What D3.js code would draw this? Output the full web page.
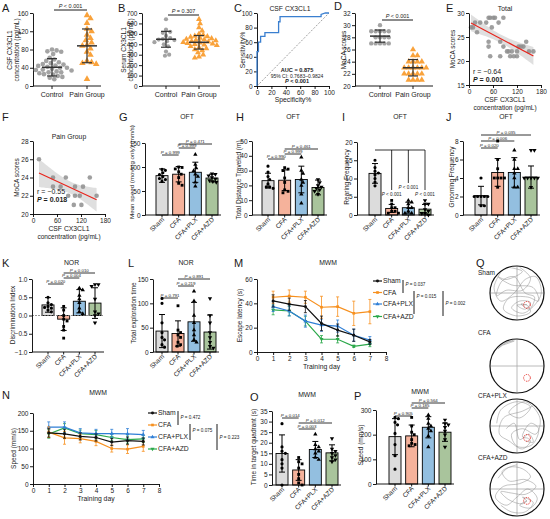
<!DOCTYPE html>
<html>
<head>
<meta charset="utf-8">
<script src="https://cdn.jsdelivr.net/npm/d3@7"></script>
<style>
  body { margin: 0; background: #fff; }
  text { fill: #1a1a1a; }
</style>
</head>
<body>
<div id="chart"></div>
<script>
// ---------- data ----------
const groups = ["Sham", "CFA", "CFA+PLX", "CFA+AZD"];
const groupFill = ["#dcdcdc", "#f5b29b", "#93bfe0", "#a9c49c"];
const lineColors = ["#111111", "#f7901e", "#2f7fd6", "#2ba84a"];

const dotCats = ["Control", "Pain Group"];
const aControl = [80, 78, 76, 75, 70, 62, 58, 55, 52, 50, 48, 47, 45, 44, 42, 40, 40, 38, 36, 35, 34, 32, 30, 30, 28, 26, 25, 22, 20, 18, 15];
const aPain = [155, 148, 138, 125, 120, 112, 105, 100, 95, 90, 88, 82, 75, 68, 55, 52, 50, 48, 15];
const aMean = [41, 88], aSD = [19, 37];
const bControl = [640, 540, 520, 510, 480, 460, 450, 445, 440, 430, 420, 400, 380, 330, 300, 290];
const bPain = [640, 600, 560, 530, 500, 490, 480, 475, 470, 460, 455, 450, 445, 440, 435, 430, 425, 420, 415, 410, 405, 400, 395, 390, 380, 370, 360, 350, 340, 320, 300, 280, 270];
const bMean = [448, 419], bSD = [76, 65];
const dControl = [30, 29, 29, 29, 29, 29, 28, 28, 28, 28, 27, 27, 27, 27, 27];
const dPain = [26, 25, 25, 24, 24, 24, 24, 23, 23, 23, 23, 23, 23, 22, 22, 22, 22, 22, 21, 21, 21, 21];
const dMean = [28.2, 23.0], dSD = [1.0, 1.35];

const rocSpec = [0, 0, 2, 2, 5, 5, 11, 11, 30, 30, 32, 32, 89, 89, 95, 100];
const rocSens = [0, 47, 47, 60, 60, 68, 68, 73, 73, 88, 88, 95, 95, 98, 100, 100];

const eCsf = [5, 10, 15, 20, 28, 43, 49, 53, 61, 57, 74, 86, 65, 49, 49, 78, 86, 53, 78, 103, 99, 107, 120, 124, 136, 143, 161, 120, 95, 112, 130, 150];
const eMoca = [27, 27, 28, 26, 28, 28, 29, 29, 29, 27, 28, 29, 29, 24, 23, 24, 23, 21, 21, 21, 22, 22, 21, 23, 23, 24, 22, 22, 22, 21, 23, 22];
const fCsf = [15, 50, 82, 142, 50, 69, 105, 125, 88, 105, 117, 159, 102, 121];
const fMoca = [26, 24, 24, 24, 23, 23, 23, 23, 22, 22, 22, 22, 21, 21];

const gMean = [82, 85, 89, 77], gSD = [14, 16, 21, 8];
const gPts = [[95, 93, 88, 84, 80, 76, 74, 70], [100, 99, 96, 90, 85, 78, 66, 62], [126, 105, 98, 92, 85, 80, 68, 60], [86, 85, 82, 78, 75, 72, 70, 68]];
const gP = ["0.999", "0.999", "0.471"];
const hMean = [23.2, 23.5, 24, 18.6], hSD = [5, 7, 9, 5];
const hPts = [[33, 29, 26, 24, 21, 19, 18, 19], [32, 31, 30, 25, 22, 17, 15, 16], [39, 30, 28, 24, 22, 20, 14, 8], [24, 22, 20, 19, 18, 16, 14, 17]];
const hP = ["0.990", "0.999", "0.461"];
const iMean = [11.4, 1.8, 2.0, 1.6], iSD = [2.7, 1.1, 1.5, 1.3];
const iPts = [[15, 13, 12, 11.5, 11, 10, 9, 8], [4, 3, 2, 2, 1, 1, 0.5, 0.5], [4, 3.5, 3, 2, 2, 1, 0.5, 0.5], [4, 3, 3, 1.5, 1, 0.5, 0.5, 0]];
const jMean = [2.1, 4.6, 4.6, 4.1], jSD = [1.0, 1.5, 1.6, 1.2];
const jPts = [[4, 2, 2, 2, 2, 1, 1, 2], [8, 6, 5, 4, 4, 4, 4, 3], [7, 6, 5, 5, 4, 3, 3, 4.5], [7, 7, 4, 4, 4, 4, 3, 4]];
const jP = ["0.020", "0.006", "0.035"];
const kMean = [0.29, -0.1, 0.39, 0.34], kSD = [0.2, 0.31, 0.32, 0.42];
const kPts = [[0.5, 0.35, 0.3, 0.25, 0.2, 0.15, 0.1, 0.22], [0.25, 0.15, 0.0, -0.1, -0.15, -0.3, -0.4, -0.62], [0.75, 0.7, 0.55, 0.45, 0.35, 0.1, 0.05, 0.2], [0.85, 0.85, 0.8, 0.45, 0.1, 0.05, 0.0, -0.2]];
const kP = ["0.020", "0.004", "0.010"];
const lMean = [43, 38, 62, 41], lSD = [34, 26, 40, 35];
const lPts = [[110, 100, 60, 40, 30, 25, 15, 10], [95, 45, 40, 35, 30, 20, 15, 12], [125, 105, 75, 60, 45, 35, 25, 20], [110, 75, 60, 40, 30, 20, 12, 8]];
const lP = ["0.791", "0.219", "0.891"];
const oMean = [14.9, 7.1, 16.8, 15.2], oSD = [8.8, 4.9, 3.8, 3.8];
const oPts = [[29, 18, 16, 15, 12, 10, 8, 0], [13, 11, 10, 8, 5, 3, 1, 0], [24, 19, 18, 17, 16, 15, 13, 12], [22, 17, 16, 15, 14, 13, 12, 11]];
const oP = ["0.014", "0.003", "0.012"];
const pMean = [192, 195, 230, 210], pSD = [73, 44, 43, 37];
const pPts = [[270, 265, 250, 240, 205, 160, 115, 60], [270, 235, 210, 200, 180, 165, 160, 155], [280, 265, 245, 235, 225, 215, 195, 150], [260, 245, 240, 230, 215, 200, 180, 150]];
const pP = ["0.905", "0.185", "0.564"];
const pairsCfa = [[0, 1], [1, 2], [1, 3]];
const pairsSham = [[0, 1], [0, 2], [0, 3]];

const days = [1, 2, 3, 4, 5, 6, 7];
const mLat = [[42, 39.3, 37.3, 23.5, 18, 13.8, 8.3], [45, 46, 45, 36.8, 37.3, 31.8, 33.2], [37.3, 33.7, 25.4, 22.1, 21.3, 13.8, 9.7], [34.6, 33.7, 25.4, 10.5, 10.5, 4.7, 6.4]];
const mErr = [[5, 5, 5, 6, 5, 5, 2], [5, 5, 5, 9, 8, 10, 10], [4, 4, 5, 5, 5, 5, 3], [4, 4, 4, 3, 3, 1, 2]];
const mP = ["0.037", "0.015", "0.002"];
const nSpeed = [[144, 141, 134, 131, 118, 122, 120], [146, 130, 128, 120, 100, 98, 106], [160, 160, 144, 142, 142, 141, 139], [141, 158, 142, 139, 131, 125, 127]];
const nErr = [[12, 12, 10, 10, 10, 10, 10], [15, 18, 12, 12, 10, 12, 14], [15, 15, 12, 12, 12, 15, 12], [12, 12, 10, 12, 10, 10, 10]];
const nP = ["0.472", "0.075", "0.223"];

// swim tracks, in units of the pool radius (y down)
const qTracks = [
  [[[-0.55, -0.85], [-0.85, -0.2], [-0.6, 0.3], [-0.1, 0.0], [0.3, -0.5], [0.7, -0.6], [0.9, 0.0], [0.6, 0.5], [0.2, 0.75], [-0.2, 0.55], [0.1, 0.3], [0.5, 0.35], [0.3, 0.6], [0.0, 0.45], [0.37, 0.44]],
   [[-0.3, -0.95], [0.2, -0.8], [-0.4, -0.5], [-0.7, -0.6], [-0.2, -0.3], [0.6, -0.2], [0.8, 0.3], [0.4, 0.15], [-0.3, 0.2], [-0.5, 0.6], [0.0, 0.85], [0.5, 0.7], [0.37, 0.44]],
   [[0.1, -0.95], [0.5, -0.55], [0.2, -0.1], [-0.4, -0.1], [-0.75, 0.1], [-0.55, -0.45], [-0.1, -0.6], [0.3, 0.0], [0.65, 0.15], [0.45, 0.6], [0.15, 0.4], [0.37, 0.44]]],
  [[[-0.15, -0.95], [-0.45, -0.85], [-0.7, -0.65], [-0.6, -0.72], [-0.35, -0.88], [-0.1, -0.93], [-0.5, -0.78]]],
  [[[-0.75, -0.1], [-0.6, -0.6], [0.0, -0.9], [0.5, -0.7], [0.1, -0.3], [-0.3, -0.5], [0.3, -0.9], [0.85, -0.3], [0.7, 0.3], [0.2, 0.1], [-0.2, 0.3], [0.0, 0.75], [0.55, 0.7], [0.8, 0.1], [0.5, -0.1], [0.2, 0.4], [0.37, 0.44]],
   [[-0.4, 0.1], [-0.1, -0.1], [0.1, 0.5], [0.45, 0.3], [0.6, 0.6], [0.3, 0.55]],
   [[0.6, -0.75], [0.2, -0.55], [-0.5, -0.3], [-0.65, 0.3], [-0.3, 0.55], [0.2, 0.85], [0.5, 0.55], [0.37, 0.44]]],
  [[[-0.7, -0.4], [-0.3, -0.8], [0.2, -0.75], [0.5, -0.45], [0.1, -0.2], [-0.5, -0.1], [-0.8, 0.3], [-0.4, 0.6], [0.0, 0.3], [0.4, 0.0], [0.75, 0.35], [0.5, 0.7], [0.1, 0.6], [0.37, 0.44]],
   [[-0.6, 0.6], [-0.2, 0.85], [0.3, 0.85], [0.6, 0.5], [0.2, 0.3], [0.37, 0.44]],
   [[0.0, -0.9], [-0.55, -0.65], [-0.3, -0.3], [0.3, -0.35], [0.7, -0.1], [0.3, 0.2], [-0.2, 0.15], [-0.6, 0.1], [-0.3, 0.4], [0.2, 0.55], [0.37, 0.44]]]
];
const qPlatform = [0.37, 0.44];

// ---------- helpers ----------
const FONT = "'Liberation Sans', Arial, Helvetica, sans-serif";
const svg = d3.select("#chart").append("svg")
  .attr("width", 550).attr("height", 519)
  .style("font-family", FONT);

function line(g, x1, y1, x2, y2, w = 0.9, c = "#000") {
  return g.append("line").attr("x1", x1).attr("y1", y1).attr("x2", x2).attr("y2", y2)
    .attr("stroke", c).attr("stroke-width", w);
}
function txt(g, x, y, s, size, anchor = "start", weight = null) {
  const t = g.append("text").attr("x", x).attr("y", y).attr("font-size", size)
    .attr("text-anchor", anchor).text(s);
  if (weight) t.attr("font-weight", weight);
  return t;
}
function pText(g, x, y, s, size, anchor = "middle", bold = false) {
  const t = g.append("text").attr("x", x).attr("y", y).attr("font-size", size).attr("text-anchor", anchor);
  if (bold) t.attr("font-weight", "bold");
  t.append("tspan").attr("font-style", "italic").text("P");
  t.append("tspan").text(" " + s);
  return t;
}
function styleAxis(a, size) {
  a.select(".domain").attr("stroke", "#000").attr("stroke-width", 0.9);
  a.selectAll(".tick line").attr("stroke", "#000").attr("stroke-width", 0.9);
  a.selectAll(".tick text").attr("font-size", size).attr("font-family", FONT).attr("fill", "#1a1a1a");
}
function yAxis(g, x, scale, ticks, fmt, size = 6.5) {
  const ax = d3.axisLeft(scale).tickValues(ticks).tickSize(3).tickSizeOuter(0).tickPadding(1.5);
  if (fmt) ax.tickFormat(fmt);
  const a = g.append("g").attr("transform", `translate(${x},0)`).call(ax);
  styleAxis(a, size);
}
function xAxis(g, y, scale, ticks, size = 6.5) {
  const ax = d3.axisBottom(scale).tickValues(ticks).tickSize(3).tickSizeOuter(0).tickPadding(1.5);
  const a = g.append("g").attr("transform", `translate(0,${y})`).call(ax);
  styleAxis(a, size);
}
function yLabel(g, x, yMid, lines, size = 6.5) {
  lines.forEach((s, i) => {
    g.append("text").attr("transform", `translate(${x + i * size * 1.15},${yMid}) rotate(-90)`)
      .attr("text-anchor", "middle").attr("font-size", size).text(s);
  });
}
function letter(s, x, y) { txt(svg, x, y, s, 11); }

// simple beeswarm: horizontal offsets so markers do not overlap
function swarm(vals, yS, r) {
  const placed = [];
  return vals.map(v => v).sort((a, b) => b - a).map(v => {
    const py = yS(v);
    let cand = 0;
    for (let k = 0; k < 300; k++) {
      cand = (k % 2 ? 1 : -1) * Math.ceil(k / 2) * r * 0.5;
      if (placed.every(p => (p.x - cand) ** 2 + (p.y - py) ** 2 >= (2 * r) ** 2)) break;
    }
    placed.push({ x: cand, y: py });
    return { v, x: cand, y: py };
  });
}
function symbolPath(i, size) {
  const types = [d3.symbolCircle, d3.symbolSquare, d3.symbolTriangle, d3.symbolTriangle];
  return d3.symbol().type(types[i]).size(size)();
}

// ---------- dot plots A, B, D ----------
function dotPanel(o) {
  const g = svg.append("g");
  const y = d3.scaleLinear().domain(o.domain).range([o.bot, o.top]);
  const x = d3.scalePoint().domain(dotCats).range(o.cx);
  yAxis(g, o.ax, y, o.ticks);
  line(g, o.ax, o.bot, o.axEnd, o.bot);
  dotCats.forEach(c => {
    line(g, x(c), o.bot, x(c), o.bot + 3);
    txt(g, x(c), o.bot + 11, c, 7, "middle");
  });
  o.series.forEach((vals, i) => {
    const cx = x(dotCats[i]);
    const sym = i === 0 ? d3.symbol().type(d3.symbolCircle).size(o.size)()
                        : d3.symbol().type(d3.symbolTriangle).size(o.size * 1.1)();
    swarm(vals, y, o.r).forEach(p => {
      g.append("path").attr("d", sym).attr("transform", `translate(${cx + p.x},${p.y})`)
        .attr("fill", i === 0 ? "#a3a3a3" : "#f9a23b");
    });
    const m = o.mean[i], s = o.sd[i];
    const col = "#333";
    line(g, cx - 10, y(m), cx + 10, y(m), 1.5, col);
    line(g, cx, y(m - s), cx, y(m + s), 1.2, col);
    line(g, cx - 5, y(m + s), cx + 5, y(m + s), 1.2, col);
    line(g, cx - 5, y(m - s), cx + 5, y(m - s), 1.2, col);
  });
  line(g, x(dotCats[0]) + 2, o.pY, x(dotCats[1]), o.pY, 0.9);
  pText(g, (x(dotCats[0]) + x(dotCats[1])) / 2 + 1, o.pY - 2.5, o.p, 5.5);
  yLabel(g, o.labX, o.labY, o.ylab);
}

// ---------- ROC panel C ----------
function rocPanel() {
  const g = svg.append("g");
  const x = d3.scaleLinear().domain([0, 100]).range([257, 329]);
  const y = d3.scaleLinear().domain([0, 100]).range([86, 13]);
  yAxis(g, 257, y, [0, 20, 40, 60, 80, 100]);
  xAxis(g, 86, x, [0, 20, 40, 60, 80, 100]);
  line(g, x(0), y(0), x(100), y(100), 0.7, "#777").attr("stroke-dasharray", "2,1.5");
  g.append("path").datum(d3.zip(rocSpec, rocSens))
    .attr("d", d3.line().x(d => x(d[0])).y(d => y(d[1])))
    .attr("fill", "none").attr("stroke", "#3a7fd0").attr("stroke-width", 1.3);
  txt(g, 290, 10.5, "CSF CX3CL1", 6.8, "middle");
  txt(g, 297, 72, "AUC = 0.875", 5.6, "middle", "bold");
  txt(g, 297, 77.6, "95% CI: 0.7683\u20130.9824", 5, "middle");
  pText(g, 297, 83.2, "< 0.001", 5.6, "middle", true);
  txt(g, 293, 102, "Specificity%", 6.8, "middle");
  yLabel(g, 245, 50, ["Sensitivity%"], 6.8);
}

// ---------- scatter + regression E, F ----------
function scatterPanel(o) {
  const g = svg.append("g");
  const x = d3.scaleLinear().domain([0, 180]).range([o.ax, o.ax + 72]);
  const y = d3.scaleLinear().domain(o.ydom).range([o.bot, o.top]);
  const n = o.xs.length;
  const mx = d3.mean(o.xs), my = d3.mean(o.ys);
  const sxx = d3.sum(o.xs, v => (v - mx) ** 2);
  const sxy = d3.sum(o.xs, (v, i) => (v - mx) * (o.ys[i] - my));
  const b = sxy / sxx, a0 = my - b * mx;
  const se = Math.sqrt(d3.sum(o.xs, (v, i) => (o.ys[i] - a0 - b * v) ** 2) / (n - 2));
  const t = 1.96 + 2.4 / (n - 2);
  const [x0, x1] = d3.extent(o.xs);
  const grid = d3.range(0, 41).map(k => x0 + (x1 - x0) * k / 40);
  const band = grid.map(v => {
    const h = t * se * Math.sqrt(1 / n + (v - mx) ** 2 / sxx);
    return [v, a0 + b * v - h, a0 + b * v + h];
  });
  g.append("path").datum(band)
    .attr("d", d3.area().x(d => x(d[0])).y0(d => y(d[1])).y1(d => y(d[2])))
    .attr("fill", "#d4d4d4").attr("opacity", 0.75);
  o.xs.forEach((v, i) => {
    g.append("circle").attr("cx", x(v)).attr("cy", y(o.ys[i])).attr("r", 2.3)
      .attr("fill", "#8e8e8e").attr("opacity", 0.85);
  });
  line(g, x(x0), y(a0 + b * x0), x(x1), y(a0 + b * x1), 1.2, "#e8241c");
  yAxis(g, o.ax, y, o.yticks);
  xAxis(g, o.bot, x, [0, 60, 120, 180]);
  txt(g, o.ax + 36, o.titleY, o.title, 6.8, "middle");
  txt(g, o.ax + 36, o.bot + 17, "CSF CX3CL1", 6.8, "middle");
  txt(g, o.ax + 36, o.bot + 24.5, "concentration (pg/mL)", 6.5, "middle");
  txt(g, o.ax + 4, o.rY, o.r, 7);
  pText(g, o.ax + 4, o.rY + 8, o.p, 7, "start", true);
  yLabel(g, o.ax - 14, (o.top + o.bot) / 2, ["MoCA scores"]);
}

// ---------- bar charts with points ----------
function barPanel(o) {
  const g = svg.append("g");
  const y = d3.scaleLinear().domain(o.domain).range([o.bot, o.top]);
  const x = d3.scalePoint().domain(groups).range(o.cx);
  const bw = 12;
  const base = o.base !== undefined ? o.base : o.domain[0];
  groups.forEach((gr, i) => {
    const cx = x(gr), m = o.mean[i];
    g.append("rect").attr("x", cx - bw / 2).attr("width", bw)
      .attr("y", Math.min(y(m), y(base))).attr("height", Math.abs(y(m) - y(base)))
      .attr("fill", groupFill[i]).attr("stroke", "#000").attr("stroke-width", 0.9);
  });
  if (o.base !== undefined) {
    line(g, o.ax, y(o.base), o.axEnd, y(o.base), 0.8, "#777").attr("stroke-dasharray", "2,1");
  }
  groups.forEach((gr, i) => {
    const cx = x(gr), m = o.mean[i], s = o.sd[i];
    line(g, cx, y(m - s), cx, y(m + s), 1);
    line(g, cx - 3, y(m + s), cx + 3, y(m + s), 1);
    line(g, cx - 3, y(m - s), cx + 3, y(m - s), 1);
    swarm(o.pts[i], y, 1.7).forEach(p => {
      g.append("path").attr("d", symbolPath(i, 8))
        .attr("transform", `translate(${cx + p.x},${p.y})${i === 3 ? " rotate(180)" : ""}`)
        .attr("fill", "#000");
    });
  });
  yAxis(g, o.ax, y, o.ticks, o.fmt);
  line(g, o.ax, o.bot, o.axEnd, o.bot);
  groups.forEach(gr => {
    line(g, x(gr), o.bot, x(gr), o.bot + 2.5);
    g.append("text").attr("transform", `translate(${x(gr) + 2.5},${o.bot + 5}) rotate(-45)`)
      .attr("text-anchor", "end").attr("font-size", 6.5).text(gr);
  });
  if (o.pairs) {
    o.pairs.forEach((pr, k) => {
      const xa = x(groups[pr[0]]), xb = x(groups[pr[1]]), ly = o.pY[k];
      line(g, xa, ly, xb, ly, 0.8);
      pText(g, (xa + xb) / 2, ly - 1.2, "= " + o.p[k], 4.4);
    });
  }
  txt(g, (o.cx[0] + o.cx[1]) / 2, o.titleY, o.title, 6.8, "middle");
  yLabel(g, o.labX, o.labY, [o.ylab], o.labSize || 6.5);
  return { g, x, y };
}

// ---------- line charts M, N ----------
function linePanel(o) {
  const g = svg.append("g");
  const x = d3.scaleLinear().domain([0, 8]).range([o.ax, o.x8]);
  const y = d3.scaleLinear().domain(o.ydom).range([o.bot, o.top]);
  yAxis(g, o.ax, y, o.yticks);
  xAxis(g, o.bot, x, d3.range(0, 9));
  [3, 2, 1, 0].forEach(i => {
    const s = o.series[i], e = o.err[i], c = lineColors[i];
    days.forEach((d, k) => {
      line(g, x(d), y(s[k] - e[k]), x(d), y(s[k] + e[k]), 0.8, c);
      line(g, x(d) - 1.5, y(s[k] + e[k]), x(d) + 1.5, y(s[k] + e[k]), 0.8, c);
      line(g, x(d) - 1.5, y(s[k] - e[k]), x(d) + 1.5, y(s[k] - e[k]), 0.8, c);
    });
    g.append("path").datum(d3.zip(days, s))
      .attr("d", d3.line().x(d => x(d[0])).y(d => y(d[1])))
      .attr("fill", "none").attr("stroke", c).attr("stroke-width", 1.2);
    days.forEach((d, k) => {
      g.append("path").attr("d", symbolPath(i, 7))
        .attr("transform", `translate(${x(d)},${y(s[k])})${i === 3 ? " rotate(180)" : ""}`).attr("fill", c);
    });
  });
  groups.forEach((gr, i) => {
    const ly = o.legY[i];
    line(g, o.legX, ly, o.legX + 9, ly, 1.2, lineColors[i]);
    g.append("path").attr("d", symbolPath(i, 7))
      .attr("transform", `translate(${o.legX + 4.5},${ly})${i === 3 ? " rotate(180)" : ""}`).attr("fill", lineColors[i]);
    txt(g, o.legX + 10, ly + 2.4, gr, 6.8);
  });
  o.brackets.forEach((bk, k) => {
    line(g, bk[0], bk[1], bk[0], bk[2], 0.9);
    pText(g, bk[0] + 2.5, bk[3], "= " + o.p[k], 4.6, "start");
  });
  txt(g, o.titleX, o.titleY, "MWM", 6.8, "middle");
  txt(g, (o.ax + o.x8) / 2, o.bot + 17, "Training day", 6.8, "middle");
  yLabel(g, o.labX, (o.top + o.bot) / 2, [o.ylab]);
}

// ---------- water maze tracks Q ----------
function mazePanel() {
  const g = svg.append("g");
  const cx = 517, r = 27;
  const cys = [293, 366, 426, 489];
  const labY = [274.5, 335, 398, 460];
  const sc = d3.scaleLinear().domain([-1, 1]).range([-r, r]);
  groups.forEach((gr, i) => {
    const cy = cys[i];
    const clipId = "clip" + i;
    svg.append("clipPath").attr("id", clipId).append("circle").attr("cx", cx).attr("cy", cy).attr("r", r - 0.5);
    const inner = g.append("g").attr("clip-path", `url(#${clipId})`);
    line(inner, cx - r, cy, cx + r, cy, 0.8, "#a8a8a8");
    line(inner, cx, cy - r, cx, cy + r, 0.8, "#a8a8a8");
    qTracks[i].forEach(tr => {
      inner.append("path").datum(tr)
        .attr("d", d3.line().x(d => cx + sc(d[0])).y(d => cy + sc(d[1])).curve(d3.curveCatmullRom))
        .attr("fill", "none").attr("stroke", "#8a8a8a").attr("stroke-width", 0.5);
    });
    g.append("circle").attr("cx", cx).attr("cy", cy).attr("r", r)
      .attr("fill", "none").attr("stroke", "#111").attr("stroke-width", 1.2);
    g.append("circle").attr("cx", cx + sc(qPlatform[0])).attr("cy", cy + sc(qPlatform[1])).attr("r", 3.4)
      .attr("fill", "none").attr("stroke", "#e3261f").attr("stroke-width", 0.9).attr("stroke-dasharray", "1.4,1");
    txt(g, 478, labY[i], gr, 6.5);
  });
}

// ---------- build ----------
letter("A", 2, 12); letter("B", 118, 12); letter("C", 234, 12); letter("D", 334, 10); letter("E", 446, 12);
letter("F", 2, 121); letter("G", 119, 121); letter("H", 236, 121); letter("I", 342, 121); letter("J", 446, 121);
letter("K", 2, 267); letter("L", 128, 267); letter("M", 234, 267); letter("Q", 476, 267);
letter("N", 2, 399); letter("O", 250, 401); letter("P", 354, 400);

dotPanel({ ax: 33, axEnd: 101, top: 13, bot: 86, domain: [0, 160], ticks: [0, 40, 80, 120, 160],
  cx: [52, 87], series: [aControl, aPain], mean: aMean, sd: aSD, r: 2.3, size: 17,
  p: "< 0.001", pY: 10, ylab: ["CSF CX3CL1", "concentration (pg/mL)"], labX: 12, labY: 50 });
dotPanel({ ax: 142, axEnd: 220, top: 13, bot: 86, domain: [0, 700], ticks: d3.range(0, 701, 100),
  cx: [166, 199], series: [bControl, bPain], mean: bMean, sd: bSD, r: 2.1, size: 14,
  p: "= 0.307", pY: 15, ylab: ["Serum CX3CL1", "concentration (pg/mL)"], labX: 126, labY: 50 });
rocPanel();
dotPanel({ ax: 355, axEnd: 433, top: 13, bot: 86, domain: [20, 32], ticks: d3.range(20, 33, 2),
  cx: [380, 413], series: [dControl, dPain], mean: dMean, sd: dSD, r: 2.2, size: 15,
  p: "< 0.001", pY: 20, ylab: ["MoCA scores"], labX: 346, labY: 50 });
scatterPanel({ ax: 469, top: 13, bot: 85, ydom: [15, 30], yticks: [15, 20, 25, 30], xs: eCsf, ys: eMoca,
  title: "Total", titleY: 11, r: "r = \u22120.64", p: "= 0.001", rY: 74 });
scatterPanel({ ax: 33, top: 141, bot: 214, ydom: [20, 28], yticks: [20, 22, 24, 26, 28], xs: fCsf, ys: fMoca,
  title: "Pain Group", titleY: 139, r: "r = \u22120.55", p: "= 0.018", rY: 194 });

barPanel({ ax: 145, axEnd: 221, top: 143, bot: 215, domain: [0, 150], ticks: [0, 50, 100, 150],
  cx: [162, 212], mean: gMean, sd: gSD, pts: gPts, pairs: pairsCfa, p: gP, pY: [155, 148, 144],
  title: "OFT", titleY: 119, ylab: "Mean speed (moving only) (mm/s)", labX: 134, labY: 172, labSize: 6.2 });
barPanel({ ax: 252, axEnd: 327, top: 141, bot: 215, domain: [0, 50], ticks: [0, 10, 20, 30, 40, 50],
  cx: [268, 318], mean: hMean, sd: hSD, pts: hPts, pairs: pairsCfa, p: hP, pY: [159, 154, 149],
  title: "OFT", titleY: 119, ylab: "Total Distance Traveled (m)", labX: 241, labY: 180 });
const iPanel = barPanel({ ax: 357, axEnd: 434, top: 142, bot: 215, domain: [0, 20], ticks: [0, 5, 10, 15, 20],
  cx: [375, 425], mean: iMean, sd: iSD, pts: iPts,
  title: "OFT", titleY: 119, ylab: "Rearing Frequency", labX: 349, labY: 177 });
// Sham vs each CFA group in panel I
{
  const g = iPanel.g, x = iPanel.x;
  const topY = 150, ends = [190, 183, 190], texY = [196, 188.5, 196];
  line(g, x(groups[0]), topY, x(groups[3]), topY, 0.8);
  [1, 2, 3].forEach((gi, k) => {
    line(g, x(groups[gi]), topY, x(groups[gi]), ends[k], 0.8);
    pText(g, x(groups[gi]), texY[k], "< 0.001", 4.6);
  });
}
barPanel({ ax: 463, axEnd: 540, top: 141, bot: 215, domain: [0, 8], ticks: [0, 2, 4, 6, 8],
  cx: [481, 531], mean: jMean, sd: jSD, pts: jPts, pairs: pairsSham, p: jP, pY: [148, 141, 135],
  title: "OFT", titleY: 119, ylab: "Grooming Frequency", labX: 454, labY: 177 });

barPanel({ ax: 32, axEnd: 104, top: 279, bot: 352, domain: [-1, 1], base: 0, ticks: [-1, -0.5, 0, 0.5, 1],
  fmt: d3.format(".1f"), cx: [48, 95], mean: kMean, sd: kSD, pts: kPts, pairs: pairsCfa, p: kP, pY: [284, 278, 273],
  title: "NOR", titleY: 265, ylab: "Discrimination Index", labX: 15, labY: 315 });
barPanel({ ax: 153, axEnd: 219, top: 279, bot: 352, domain: [0, 150], ticks: [0, 50, 100, 150],
  cx: [162, 210], mean: lMean, sd: lSD, pts: lPts, pairs: pairsCfa, p: lP, pY: [298, 286, 279],
  title: "NOR", titleY: 265, ylab: "Total exploration time", labX: 136, labY: 313 });
linePanel({ ax: 257, x8: 386, top: 279, bot: 352, ydom: [0, 60], yticks: [0, 20, 40, 60],
  series: mLat, err: mErr, legX: 373, legY: [281, 292.5, 304, 316.5], p: mP,
  brackets: [[403, 280, 293, 285.5], [414, 291, 314, 298], [443, 291, 316, 305]],
  titleX: 328, titleY: 265, ylab: "Escape latency (s)", labX: 242 });
mazePanel();

linePanel({ ax: 33, x8: 159, top: 413, bot: 484, ydom: [0, 200], yticks: [0, 50, 100, 150, 200],
  series: nSpeed, err: nErr, legX: 148, legY: [413, 425, 437, 449], p: nP,
  brackets: [[178, 411, 425, 419], [190, 424, 440, 432], [217, 424, 450, 439]],
  titleX: 98, titleY: 395, ylab: "Speed (mm/s)", labX: 16 });
barPanel({ ax: 272, axEnd: 341, top: 411, bot: 485, domain: [0, 35], ticks: d3.range(0, 36, 5),
  cx: [282, 332], mean: oMean, sd: oSD, pts: oPts, pairs: pairsCfa, p: oP, pY: [418, 429, 423],
  title: "MWM", titleY: 397, ylab: "Time in target quadrant (s)", labX: 256, labY: 447 });
barPanel({ ax: 376, axEnd: 454, top: 410, bot: 484, domain: [0, 300], ticks: [0, 100, 200, 300],
  cx: [395, 445], mean: pMean, sd: pSD, pts: pPts, pairs: pairsCfa, p: pP, pY: [416, 408, 403],
  title: "MWM", titleY: 394, ylab: "Speed (mm/s)", labX: 363, labY: 445 });
</script>
</body>
</html>
